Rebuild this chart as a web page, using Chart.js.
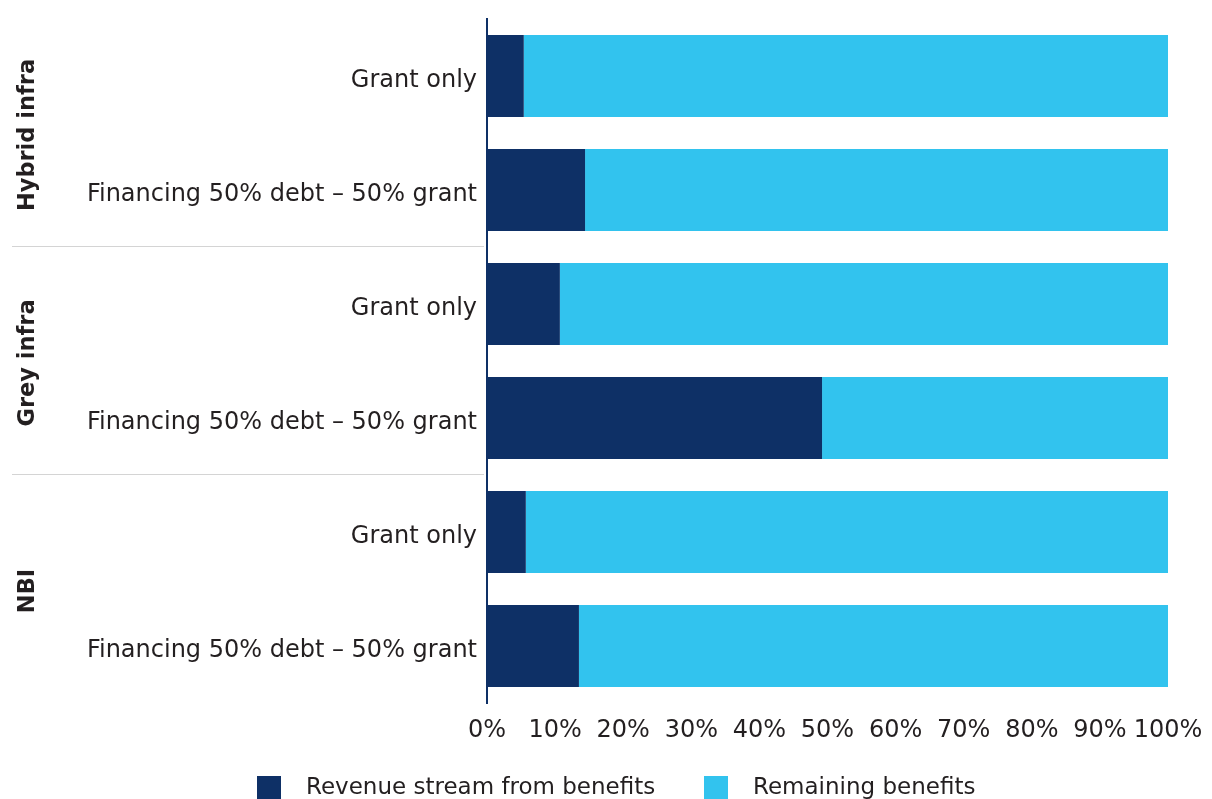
<!DOCTYPE html>
<html>
<head>
<meta charset="utf-8">
<script src="https://cdn.jsdelivr.net/npm/chart.js@4.4.1/dist/chart.umd.min.js"></script>
<style>
  html, body { margin: 0; padding: 0; background: #fff; overflow: hidden; }
  #wrap { width: 1212px; height: 799px; }
</style>
</head>
<body>
<div id="wrap"><canvas id="benefitsChart"></canvas></div>
<script>
// Chart data
const rowLabels = [
  'Grant only', 'Financing 50% debt \u2013 50% grant',
  'Grant only', 'Financing 50% debt \u2013 50% grant',
  'Grant only', 'Financing 50% debt \u2013 50% grant'
];
const groupLabels = ['Hybrid infra', 'Grey infra', 'NBI'];
const seriesNames = ['Revenue stream from benefits', 'Remaining benefits'];
const revenueStream = [5.4, 14.4, 10.7, 49.2, 5.7, 13.5];
const remainingBenefits = revenueStream.map(v => 100 - v);
const tickValues = [0, 10, 20, 30, 40, 50, 60, 70, 80, 90, 100];
const colors = ['#0e3066', '#32c3ee'];

const FONT = "'DejaVu Sans', sans-serif";
const TEXT = '#231f20';

// group labels on the left + thin separators between groups
const groupPlugin = {
  id: 'groups',
  afterDraw(chart) {
    const ctx = chart.ctx;
    const y = chart.scales.y;
    ctx.save();
    ctx.strokeStyle = '#d4d4d4';
    ctx.lineWidth = 1;
    for (let g = 1; g < groupLabels.length; g++) {
      const yy = Math.round((y.getPixelForValue(g * 2 - 1) + y.getPixelForValue(g * 2)) / 2) - 0.5;
      ctx.beginPath();
      ctx.moveTo(12, yy);
      ctx.lineTo(484, yy);
      ctx.stroke();
    }
    ctx.fillStyle = TEXT;
    ctx.font = "bold 22.5px " + FONT;
    ctx.textAlign = 'center';
    ctx.textBaseline = 'middle';
    groupLabels.forEach((g, i) => {
      const cy = (y.getPixelForValue(i * 2) + y.getPixelForValue(i * 2 + 1)) / 2;
      ctx.save();
      ctx.translate(28, cy + 2);
      ctx.rotate(-Math.PI / 2);
      ctx.fillText(g, 0, 0);
      ctx.restore();
    });
    ctx.restore();
  }
};

// legend at the bottom, cut by the lower edge like the original
const legendPlugin = {
  id: 'bottomLegend',
  afterDraw(chart) {
    const ctx = chart.ctx;
    const boxX = [257, 704];
    ctx.save();
    ctx.font = "23px " + FONT;
    ctx.textBaseline = 'middle';
    ctx.textAlign = 'left';
    seriesNames.forEach((name, i) => {
      ctx.fillStyle = colors[i];
      ctx.fillRect(boxX[i], 776, 24, 24);
      ctx.fillStyle = TEXT;
      ctx.fillText(name, boxX[i] + 49, 788);
    });
    ctx.restore();
  }
};

new Chart(document.getElementById('benefitsChart'), {
  type: 'bar',
  data: {
    labels: rowLabels,
    datasets: [
      {
        label: seriesNames[0],
        data: revenueStream,
        backgroundColor: colors[0],
        barPercentage: 0.72,
        categoryPercentage: 1
      },
      {
        label: seriesNames[1],
        data: remainingBenefits,
        backgroundColor: colors[1],
        barPercentage: 0.72,
        categoryPercentage: 1
      }
    ]
  },
  options: {
    indexAxis: 'y',
    responsive: true,
    maintainAspectRatio: false,
    animation: false,
    layout: { padding: { top: 19, right: 44, left: 0, bottom: 56 } },
    scales: {
      x: {
        stacked: true,
        min: 0,
        max: 100,
        afterBuildTicks: s => { s.ticks = tickValues.map(v => ({ value: v })); },
        afterFit: s => { s.height = 40; s.paddingLeft = 0; s.paddingRight = 0; },
        grid: { display: false, drawTicks: false },
        border: { display: false },
        ticks: {
          color: TEXT,
          font: { family: FONT, size: 24 },
          padding: 13,
          autoSkip: false,
          maxRotation: 0,
          callback: v => v + '%'
        }
      },
      y: {
        stacked: true,
        afterFit: s => { s.width = 487; s.paddingTop = 0; s.paddingBottom = 0; },
        grid: { display: false, drawTicks: false },
        border: { display: true, color: colors[0], width: 2 },
        ticks: {
          color: TEXT,
          font: { family: FONT, size: 24 },
          padding: 10,
          labelOffset: 5
        }
      }
    },
    plugins: {
      legend: { display: false },
      tooltip: { enabled: false }
    }
  },
  plugins: [groupPlugin, legendPlugin]
});
</script>
</body>
</html>
